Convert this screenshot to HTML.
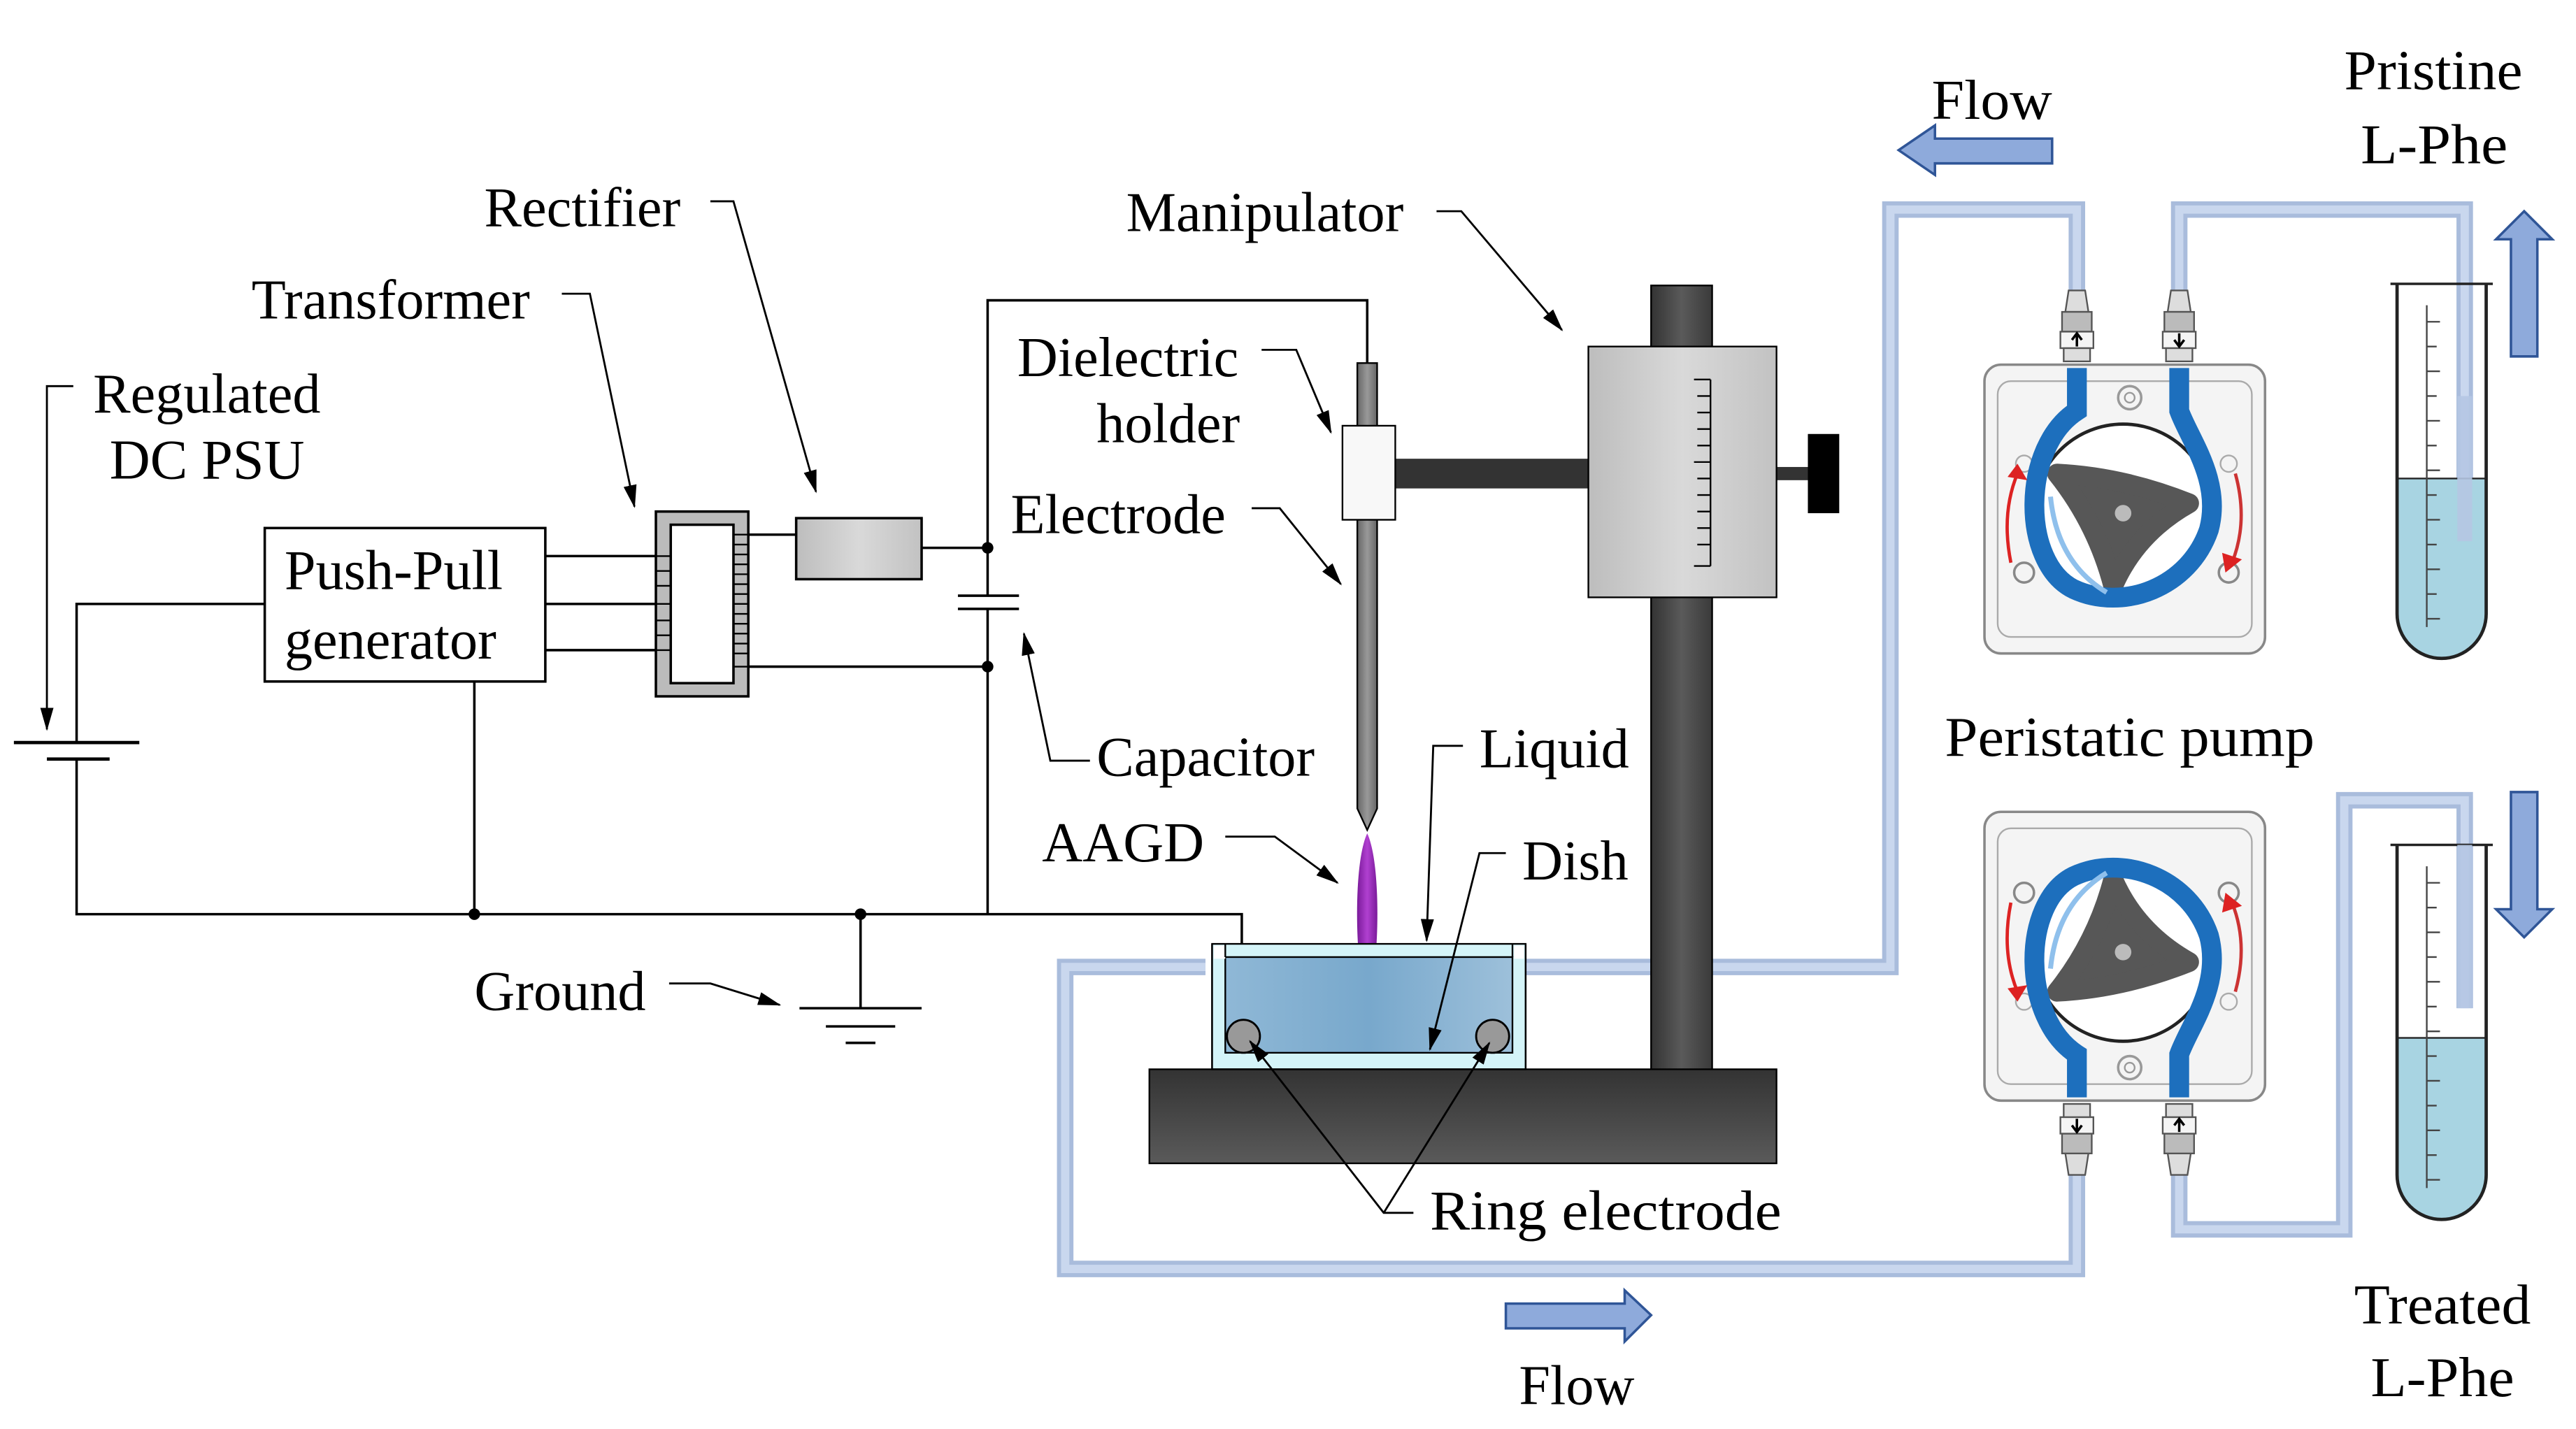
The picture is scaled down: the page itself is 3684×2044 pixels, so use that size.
<!DOCTYPE html>
<html><head><meta charset="utf-8"><style>
html,body{margin:0;padding:0;background:#fff;}
svg{display:block;}
text{font-family:"Liberation Serif",serif;font-size:34px;fill:#000;}
</style></head><body>
<svg width="3684" height="2044" viewBox="0 0 1560 866" xmlns="http://www.w3.org/2000/svg">
<defs>
<marker id="ah" markerWidth="14" markerHeight="8" refX="13" refY="4" orient="auto" markerUnits="userSpaceOnUse">
<path d="M0,0 L14,4 L0,8 Z" fill="#000"/></marker>
<linearGradient id="gray" x1="0" x2="1"><stop offset="0" stop-color="#bdbdbd"/><stop offset="0.5" stop-color="#d9d9d9"/><stop offset="1" stop-color="#c2c2c2"/></linearGradient>
<linearGradient id="dark" x1="0" x2="1"><stop offset="0" stop-color="#333"/><stop offset="0.5" stop-color="#5a5a5a"/><stop offset="1" stop-color="#3a3a3a"/></linearGradient>
<linearGradient id="base" x1="0" y1="0" x2="0" y2="1"><stop offset="0" stop-color="#333"/><stop offset="1" stop-color="#5a5a5a"/></linearGradient>
<linearGradient id="liq" x1="0" x2="1"><stop offset="0" stop-color="#8fb8d6"/><stop offset="0.5" stop-color="#78a8cc"/><stop offset="1" stop-color="#9dc0da"/></linearGradient>
<linearGradient id="rod" x1="0" x2="1"><stop offset="0" stop-color="#666"/><stop offset="0.5" stop-color="#999"/><stop offset="1" stop-color="#666"/></linearGradient>
<linearGradient id="plasma" x1="0" x2="1"><stop offset="0" stop-color="#7a1a9a"/><stop offset="0.5" stop-color="#b040d0"/><stop offset="1" stop-color="#7a1a9a"/></linearGradient>
<g id="pump">
  <rect x="-84" y="-90" width="170" height="175" rx="10" fill="#f4f4f4" stroke="#888" stroke-width="1.5"/>
  <rect x="-76" y="-80" width="154" height="155" rx="8" fill="none" stroke="#aaa" stroke-width="1"/>
  <circle cx="-60" cy="36" r="6" fill="none" stroke="#888" stroke-width="1.5"/>
  <circle cx="64" cy="36" r="6" fill="none" stroke="#888" stroke-width="1.5"/>
  <circle cx="-60" cy="-30" r="5" fill="none" stroke="#aaa"/>
  <circle cx="64" cy="-30" r="5" fill="none" stroke="#aaa"/>
  <circle cx="4" cy="-70" r="7" fill="none" stroke="#999" stroke-width="1.5"/>
  <circle cx="4" cy="-70" r="3" fill="none" stroke="#999"/>
  <circle cx="0" cy="0" r="54" fill="#fff" stroke="#222" stroke-width="2"/>
  <path d="M-40,-24 Q0,-22 40,-6 Q8,12 -6,44 Q-16,6 -40,-24 Z" fill="#575757" stroke="#575757" stroke-width="12" stroke-linejoin="round"/>
  <circle cx="0" cy="0" r="5" fill="#bbb"/>
  <path d="M-28,-88 L-28,-62 C-62,-40 -62,30 -30,46 C0,60 40,45 52,10 C60,-20 40,-45 34,-62 L34,-88" fill="none" stroke="#1d6fbd" stroke-width="12"/>
  <path d="M-44,-10 Q-40,30 -10,48" fill="none" stroke="#8fc0ec" stroke-width="3"/>
  <path d="M-68,30 Q-74,0 -64,-24" fill="none" stroke="#d22" stroke-width="2"/>
  <path d="M-64,-30 L-58,-20 L-70,-22 Z" fill="#d22"/>
  <path d="M68,-24 Q76,5 66,30" fill="none" stroke="#c33" stroke-width="2"/>
  <path d="M62,36 L60,24 L72,28 Z" fill="#d22"/>
  <g fill="#ddd" stroke="#555" stroke-width="1">
    <path d="M-33,-135 L-23,-135 L-21,-122 L-35,-122 Z"/>
    <rect x="-37" y="-122" width="18" height="12" fill="#bbb"/>
    <rect x="-38" y="-110" width="20" height="10" fill="#f4f4f4"/>
    <rect x="-36" y="-100" width="16" height="8"/>
    <path d="M29,-135 L39,-135 L41,-122 L27,-122 Z"/>
    <rect x="25" y="-122" width="18" height="12" fill="#bbb"/>
    <rect x="24" y="-110" width="20" height="10" fill="#f4f4f4"/>
    <rect x="26" y="-100" width="16" height="8"/>
  </g>
  <path d="M-28,-101 L-28,-108 M-31,-105 L-28,-109 L-25,-105" stroke="#000" stroke-width="1.5" fill="none"/>
  <path d="M34,-109 L34,-102 M31,-105 L34,-101 L37,-105" stroke="#000" stroke-width="1.5" fill="none"/>
</g>
</defs>

<g fill="none" stroke-linejoin="miter">
  <g stroke="#a9bcdc" stroke-width="10">
    <path d="M919,586 L1145,586 L1145,127 L1258,127 L1258,178"/>
    <path d="M1320,178 L1320,127 L1493,127 L1493,328"/>
    <path d="M730,586 L645,586 L645,769 L1258,769 L1258,712"/>
    <path d="M1320,712 L1320,745 L1420,745 L1420,485 L1493,485 L1493,611"/>
  </g>
  <g stroke="#c9d7ee" stroke-width="5">
    <path d="M919,586 L1145,586 L1145,127 L1258,127 L1258,178"/>
    <path d="M1320,178 L1320,127 L1493,127 L1493,328"/>
    <path d="M730,586 L645,586 L645,769 L1258,769 L1258,712"/>
    <path d="M1320,712 L1320,745 L1420,745 L1420,485 L1493,485 L1493,611"/>
  </g>
</g>

<g stroke="#000" stroke-width="1.5" fill="none">
  <path d="M160,366 L46,366 L46,450"/>
  <path d="M8,450 L84,450" stroke-width="2"/>
  <path d="M28,460 L66,460" stroke-width="2"/>
  <path d="M46,460 L46,554 L752,554 L752,586"/>
  <path d="M287,413 L287,554"/>
  <path d="M521,554 L521,611"/>
  <path d="M484,611 L558,611 M500,622 L542,622 M512,632 L530,632"/>
  <path d="M330,337 L406,337 M330,366 L406,366 M330,394 L406,394"/>
  <path d="M434,324 L482,324 M558,332 L598,332 M598,332 L598,361 M598,369 L598,554"/>
  <path d="M434,404 L598,404"/>
  <path d="M580,361 L617,361 M580,369 L617,369"/>
  <path d="M598,332 L598,182 L828,182 L828,222"/>
</g>
<circle cx="598" cy="332" r="3.5"/><circle cx="598" cy="404" r="3.5"/>
<circle cx="287" cy="554" r="3.5"/><circle cx="521" cy="554" r="3.5"/>
<rect x="160" y="320" width="170" height="93" fill="#fff" stroke="#000" stroke-width="1.5"/>
<rect x="397" y="310" width="56" height="112" fill="#bbb" stroke="#000" stroke-width="1.5"/>
<rect x="406" y="318" width="38" height="96" fill="#fff" stroke="#000" stroke-width="1.5"/>
<g stroke="#000" stroke-width="1">
  <path d="M397,337 L406,337 M397,346 L406,346 M397,355 L406,355 M397,366 L406,366 M397,376 L406,376 M397,385 L406,385 M397,394 L406,394"/>
  <path d="M444,324 L453,324 M444,330 L453,330 M444,336 L453,336 M444,342 L453,342 M444,348 L453,348 M444,354 L453,354 M444,360 L453,360 M444,366 L453,366 M444,372 L453,372 M444,378 L453,378 M444,384 L453,384 M444,390 L453,390 M444,396 L453,396 M444,404 L453,404"/>
</g>
<rect x="482" y="314" width="76" height="37" fill="url(#gray)" stroke="#000" stroke-width="1.5"/>

<rect x="1000" y="173" width="37" height="476" fill="url(#dark)" stroke="#000" stroke-width="1"/>
<rect x="845" y="278" width="117" height="18" fill="#333"/>
<rect x="1076" y="283" width="20" height="8" fill="#333"/>
<rect x="1095" y="263" width="19" height="48" fill="#000"/>
<rect x="962" y="210" width="114" height="152" fill="url(#gray)" stroke="#000" stroke-width="1"/>
<g stroke="#000" stroke-width="1">
  <path d="M1036,230 L1036,343"/>
  <path d="M1026,230 L1036,230 M1028,240 L1036,240 M1028,250 L1036,250 M1028,260 L1036,260 M1028,270 L1036,270 M1026,280 L1036,280 M1028,290 L1036,290 M1028,300 L1036,300 M1028,310 L1036,310 M1028,320 L1036,320 M1028,330 L1036,330 M1026,343 L1036,343"/>
</g>
<rect x="696" y="648" width="380" height="57" fill="url(#base)" stroke="#000" stroke-width="1"/>
<path d="M822,220 L834,220 L834,490 L828,503 L822,490 Z" fill="url(#rod)" stroke="#000" stroke-width="1"/>
<rect x="813" y="258" width="32" height="57" fill="#f8f8f8" stroke="#000" stroke-width="1"/>
<path d="M828,505 C835,520 835,560 833,580 L823,580 C821,560 821,520 828,505 Z" fill="url(#plasma)"/>
<rect x="734" y="572" width="190" height="76" fill="#d4f4f8" stroke="#000" stroke-width="1"/>
<rect x="742" y="580" width="174" height="58" fill="url(#liq)" stroke="#000" stroke-width="1"/>
<rect x="735" y="573" width="7" height="8" fill="#fff"/><rect x="917" y="573" width="6" height="8" fill="#fff"/>
<path d="M734,572 L734,648 L924,648 L924,572 M742,572 L742,580 M916,572 L916,580" fill="none" stroke="#000" stroke-width="1"/>
<ellipse cx="753" cy="628" rx="10" ry="10" fill="#999" stroke="#000" stroke-width="1.2"/>
<ellipse cx="904" cy="628" rx="10" ry="10" fill="#999" stroke="#000" stroke-width="1.2"/>

<use href="#pump" transform="translate(1286,311)"/>
<use href="#pump" transform="translate(1286,577) scale(1,-1)"/>

<g>
  <path d="M1452,290 L1506,290 L1506,372 A27,27 0 0 1 1452,372 Z" fill="#a8d4e2"/>
  <path d="M1452,172 L1452,372 A27,27 0 0 0 1506,372 L1506,172" fill="none" stroke="#222" stroke-width="2"/>
  <path d="M1448,172 L1510,172" stroke="#222" stroke-width="1.5"/>
  <path d="M1452,290 L1506,290" stroke="#222" stroke-width="1"/>
  <path d="M1470,185 L1470,380" stroke="#444" stroke-width="1"/>
  <path d="M1470,195h8M1470,210h6M1470,225h8M1470,240h6M1470,255h8M1470,270h6M1470,285h8M1470,300h6M1470,315h8M1470,330h6M1470,345h8M1470,360h6M1470,375h8" stroke="#444" stroke-width="1"/>
  <path d="M1452,629 L1506,629 L1506,712 A27,27 0 0 1 1452,712 Z" fill="#a8d4e2"/>
  <path d="M1452,512 L1452,712 A27,27 0 0 0 1506,712 L1506,512" fill="none" stroke="#222" stroke-width="2"/>
  <path d="M1448,512 L1510,512" stroke="#222" stroke-width="1.5"/>
  <path d="M1452,629 L1506,629" stroke="#222" stroke-width="1"/>
  <path d="M1470,525 L1470,720" stroke="#444" stroke-width="1"/>
  <path d="M1470,535h8M1470,550h6M1470,565h8M1470,580h6M1470,595h8M1470,610h6M1470,625h8M1470,640h6M1470,655h8M1470,670h6M1470,685h8M1470,700h6M1470,715h8" stroke="#444" stroke-width="1"/>
</g>
<path d="M1493,240 L1493,328" stroke="#b5c6e3" stroke-width="9" fill="none" opacity="0.9"/>
<path d="M1493,512 L1493,611" stroke="#b5c6e3" stroke-width="9" fill="none" opacity="0.9"/>

<g fill="#8eaadb" stroke="#2f5597" stroke-width="1.5">
  <path d="M1243,84 L1172,84 L1172,76 L1150,91 L1172,106 L1172,99 L1243,99 Z"/>
  <path d="M1521,216 L1521,145 L1512,145 L1529,128 L1546,145 L1537,145 L1537,216 Z"/>
  <path d="M1521,480 L1521,551 L1512,551 L1529,568 L1546,551 L1537,551 L1537,480 Z"/>
  <path d="M912,790 L984,790 L984,782 L1000,797 L984,813 L984,805 L912,805 Z"/>
</g>

<g stroke="#000" stroke-width="1.2" fill="none" marker-end="url(#ah)">
  <path d="M430,122 L444,122 L494,298"/>
  <path d="M340,178 L357,178 L384,307"/>
  <path d="M44,234 L28,234 L28,442"/>
  <path d="M870,128 L885,128 L946,200"/>
  <path d="M764,212 L785,212 L806,262"/>
  <path d="M758,308 L775,308 L812,354"/>
  <path d="M660,461 L636,461 L620,384"/>
  <path d="M886,452 L868,452 L864,570"/>
  <path d="M742,507 L772,507 L810,535"/>
  <path d="M912,517 L896,517 L866,636"/>
  <path d="M405,596 L430,596 L472,609"/>
  <path d="M856,735 L838,735 L757,631"/>
  <path d="M838,735 L902,632"/>
</g>

<text x="293" y="137">Rectifier</text>
<text x="152" y="193">Transformer</text>
<text x="56" y="250">Regulated</text>
<text x="66" y="290">DC PSU</text>
<text x="172" y="357">Push-Pull</text>
<text x="172" y="399">generator</text>
<text x="682" y="140">Manipulator</text>
<text x="616" y="228">Dielectric</text>
<text x="664" y="268">holder</text>
<text x="612" y="323">Electrode</text>
<text x="664" y="470">Capacitor</text>
<text x="896" y="465">Liquid</text>
<text x="631" y="522">AAGD</text>
<text x="922" y="533">Dish</text>
<text x="287" y="612">Ground</text>
<text x="866" y="745" textLength="213" lengthAdjust="spacingAndGlyphs">Ring electrode</text>
<text x="1170" y="72" textLength="73" lengthAdjust="spacingAndGlyphs">Flow</text>
<text x="1420" y="54" textLength="108" lengthAdjust="spacingAndGlyphs">Pristine</text>
<text x="1430" y="99" textLength="89" lengthAdjust="spacingAndGlyphs">L-Phe</text>
<text x="1178" y="458" textLength="224" lengthAdjust="spacingAndGlyphs">Peristatic pump</text>
<text x="920" y="851">Flow</text>
<text x="1426" y="802" textLength="107" lengthAdjust="spacingAndGlyphs">Treated</text>
<text x="1436" y="846" textLength="87" lengthAdjust="spacingAndGlyphs">L-Phe</text>
</svg>
</body></html>
